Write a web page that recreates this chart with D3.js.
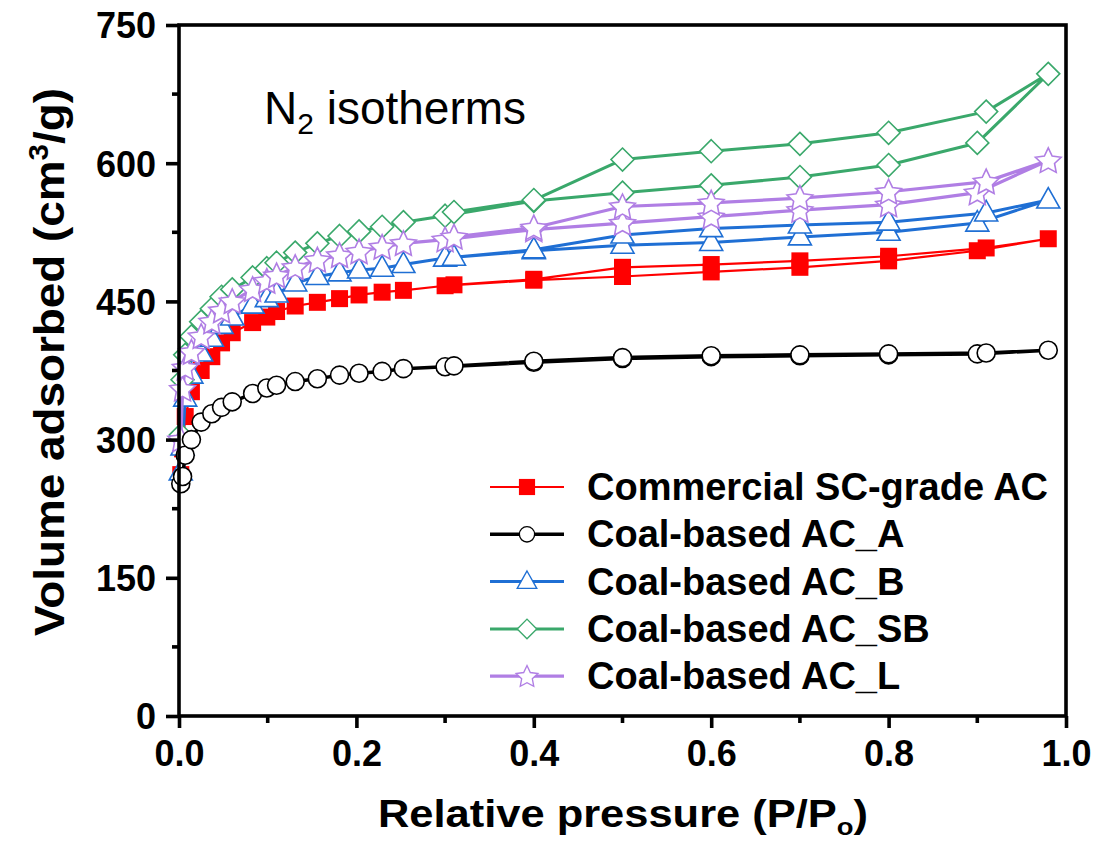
<!DOCTYPE html>
<html>
<head>
<meta charset="utf-8">
<script src="https://cdn.jsdelivr.net/npm/d3@7"></script>
<style>
  html, body { margin: 0; padding: 0; background: #fff; }
  svg { display: block; font-family: "Liberation Sans", Arial, sans-serif; }
</style>
</head>
<body>
<svg id="chart" width="1117" height="841"></svg>
<script>
// Relative pressure points (adsorption branch, then desorption branch)
const pAds = [0.002, 0.004, 0.007, 0.014, 0.025, 0.037, 0.048, 0.06, 0.083, 0.099, 0.11, 0.131,
              0.156, 0.181, 0.203, 0.229, 0.253, 0.30, 0.40, 0.50, 0.60, 0.70, 0.80, 0.90, 0.98];
const pDes = [0.91, 0.80, 0.70, 0.60, 0.50, 0.40, 0.31];

// Volume adsorbed (cm3/g) for each sample
const commercialAds = [262, 290, 325, 352, 375, 390, 405, 416, 427, 433, 439, 445, 449, 453, 457, 460, 462, 467, 473, 477, 482, 487, 494, 505, 518];
const commercialDes = [508, 499, 494, 490, 487, 474, 468];
const acAAds = [252, 260, 283, 300, 319, 328, 335, 341, 350, 356, 359, 363, 366, 370, 372, 374, 377, 379, 384, 388, 390, 391, 392, 393, 397];
const acADes = [394, 393, 392, 391, 389, 385, 380];
const acBAds = [265, 292, 345, 370, 394, 410, 424, 433, 446, 453, 458, 470, 477, 481, 484, 486, 490, 497, 505, 511, 514, 520, 525, 535, 560];
const acBDes = [546, 536, 533, 529, 522, 506, 498];
const acSBAds = [305, 365, 392, 412, 428, 442, 455, 463, 476, 486, 492, 503, 513, 521, 526, 531, 536, 543, 559, 568, 576, 585, 598, 622, 697];
const acSBDes = [656, 633, 621, 613, 604, 560, 547];
const acLAds = [300, 355, 378, 395, 412, 428, 440, 450, 463, 472, 478, 487, 495, 500, 504, 509, 513, 517, 528, 535, 542, 549, 555, 568, 603];
const acLDes = [580, 569, 562, 557, 553, 530, 520];

const seriesNames = ["Commercial SC-grade AC", "Coal-based AC_A", "Coal-based AC_B", "Coal-based AC_SB", "Coal-based AC_L"];
const xTicks = [0, 0.2, 0.4, 0.6, 0.8, 1.0];
const yTicks = [0, 150, 300, 450, 600, 750];

const series = [
  { name: seriesNames[0], ads: commercialAds, des: commercialDes, color: "#ff0000", shape: "square", lw: 2.2 },
  { name: seriesNames[2], ads: acBAds, des: acBDes, color: "#1f6fd4", shape: "triangle", lw: 3 },
  { name: seriesNames[3], ads: acSBAds, des: acSBDes, color: "#3aa86b", shape: "diamond", lw: 3 },
  { name: seriesNames[4], ads: acLAds, des: acLDes, color: "#b07ee4", shape: "star", lw: 3.2 },
  { name: seriesNames[1], ads: acAAds, des: acADes, color: "#000000", shape: "circle", lw: 3.5 }
];
const legendOrder = [0, 4, 1, 2, 3];

const svg = d3.select("#chart");
const x = d3.scaleLinear().domain([0, 1]).range([179, 1066]);
const y = d3.scaleLinear().domain([0, 750]).range([716, 25]);

// marker shapes
function markerPath(shape) {
  switch (shape) {
    case "square": return "M-8.5,-8.5H8.5V8.5H-8.5Z";
    case "circle": return d3.symbol(d3.symbolCircle, Math.PI * 9 * 9)();
    case "triangle": return "M0,-12.5L11.5,8L-11.5,8Z";
    case "diamond": return "M0,-11.5L11.5,0L0,11.5L-11.5,0Z";
    case "star": {
      const R = 13.5, r = 6.6, pts = [];
      for (let i = 0; i < 10; i++) {
        const a = -Math.PI / 2 + i * Math.PI / 5, rad = i % 2 ? r : R;
        pts.push([rad * Math.cos(a), rad * Math.sin(a) + 1]);
      }
      return "M" + pts.map(p => p.join(",")).join("L") + "Z";
    }
  }
}
function markerStyle(sel, s) {
  sel.attr("fill", s.shape === "square" ? s.color : "#fff")
     .attr("stroke", s.shape === "square" ? "none" : s.color)
     .attr("stroke-width", 1.6)
     .attr("stroke-linejoin", "miter");
}

const plot = svg.append("g");
series.forEach(s => {
  const pts = pAds.map((p, i) => [p, s.ads[i]]).concat(pDes.map((p, i) => [p, s.des[i]]));
  const line = d3.line().x(d => x(d[0])).y(d => y(d[1]));
  plot.append("path").attr("d", line(pts)).attr("fill", "none")
      .attr("stroke", s.color).attr("stroke-width", s.lw).attr("stroke-linejoin", "round");
  plot.selectAll(null).data(pts).join("path")
      .attr("d", markerPath(s.shape))
      .attr("transform", d => `translate(${x(d[0])},${y(d[1])})`)
      .call(markerStyle, s);
});

// axes
const axisW = 3.6;
const xAxis = d3.axisBottom(x).tickValues(xTicks).tickSize(12).tickFormat(d3.format(".1f"));
const yAxis = d3.axisLeft(y).tickValues(yTicks).tickSize(13).tickFormat(d3.format("d"));
const gx = svg.append("g").attr("transform", "translate(0,716)").call(xAxis);
const gy = svg.append("g").attr("transform", "translate(179,0)").call(yAxis);
[gx, gy].forEach(g => {
  g.select(".domain").remove();
  g.selectAll(".tick line").attr("stroke", "#000").attr("stroke-width", axisW);
  g.selectAll(".tick text").attr("fill", "#000").attr("font-size", 36).attr("font-weight", "bold");
});
gx.selectAll(".tick text").attr("dy", null).attr("y", 50);
gy.selectAll(".tick text").attr("x", -23).attr("dy", "0.36em");

// minor ticks
const xMinor = [0.1, 0.3, 0.5, 0.7, 0.9];
const yMinor = [75, 225, 375, 525, 675];
svg.append("g").selectAll("line").data(xMinor).join("line")
  .attr("x1", d => x(d)).attr("x2", d => x(d)).attr("y1", 716).attr("y2", 723)
  .attr("stroke", "#000").attr("stroke-width", axisW);
svg.append("g").selectAll("line").data(yMinor).join("line")
  .attr("y1", d => y(d)).attr("y2", d => y(d)).attr("x1", 179).attr("x2", 172)
  .attr("stroke", "#000").attr("stroke-width", axisW);

// frame
svg.append("rect").attr("x", 179).attr("y", 25).attr("width", 887).attr("height", 691)
  .attr("fill", "none").attr("stroke", "#000").attr("stroke-width", axisW);

// axis titles
const xt = svg.append("text").attr("x", 378).attr("y", 827).attr("font-size", 38).attr("font-weight", "bold")
  .attr("textLength", 490).attr("lengthAdjust", "spacingAndGlyphs");
xt.append("tspan").text("Relative pressure (P/P");
xt.append("tspan").attr("font-size", 24).attr("dy", 8).text("o");
xt.append("tspan").attr("dy", -8).text(")");

const yt = svg.append("text").attr("transform", "translate(64,636) rotate(-90)")
  .attr("font-size", 42).attr("font-weight", "bold")
  .attr("textLength", 548).attr("lengthAdjust", "spacingAndGlyphs");
yt.append("tspan").text("Volume adsorbed (cm");
yt.append("tspan").attr("font-size", 27).attr("dy", -16).text("3");
yt.append("tspan").attr("dy", 16).text("/g)");

// annotation
const ann = svg.append("text").attr("x", 264).attr("y", 124).attr("font-size", 46);
ann.append("tspan").text("N");
ann.append("tspan").attr("font-size", 30).attr("dy", 10).text("2");
ann.append("tspan").attr("dy", -10).text(" isotherms");

// legend
const legend = svg.append("g");
legendOrder.forEach((si, row) => {
  const s = series[si];
  const cy = 487 + row * 47.3;
  legend.append("line").attr("x1", 490).attr("x2", 564).attr("y1", cy).attr("y2", cy)
    .attr("stroke", s.color).attr("stroke-width", s.lw);
  legend.append("path").attr("d", markerPath(s.shape))
    .attr("transform", `translate(527,${cy}) scale(${s.shape === "square" ? 0.95 : 0.85})`)
    .call(markerStyle, s);
  legend.append("text").attr("x", 587).attr("y", cy + 13).attr("font-size", 38)
    .attr("font-weight", "bold").text(s.name);
});
</script>
</body>
</html>
